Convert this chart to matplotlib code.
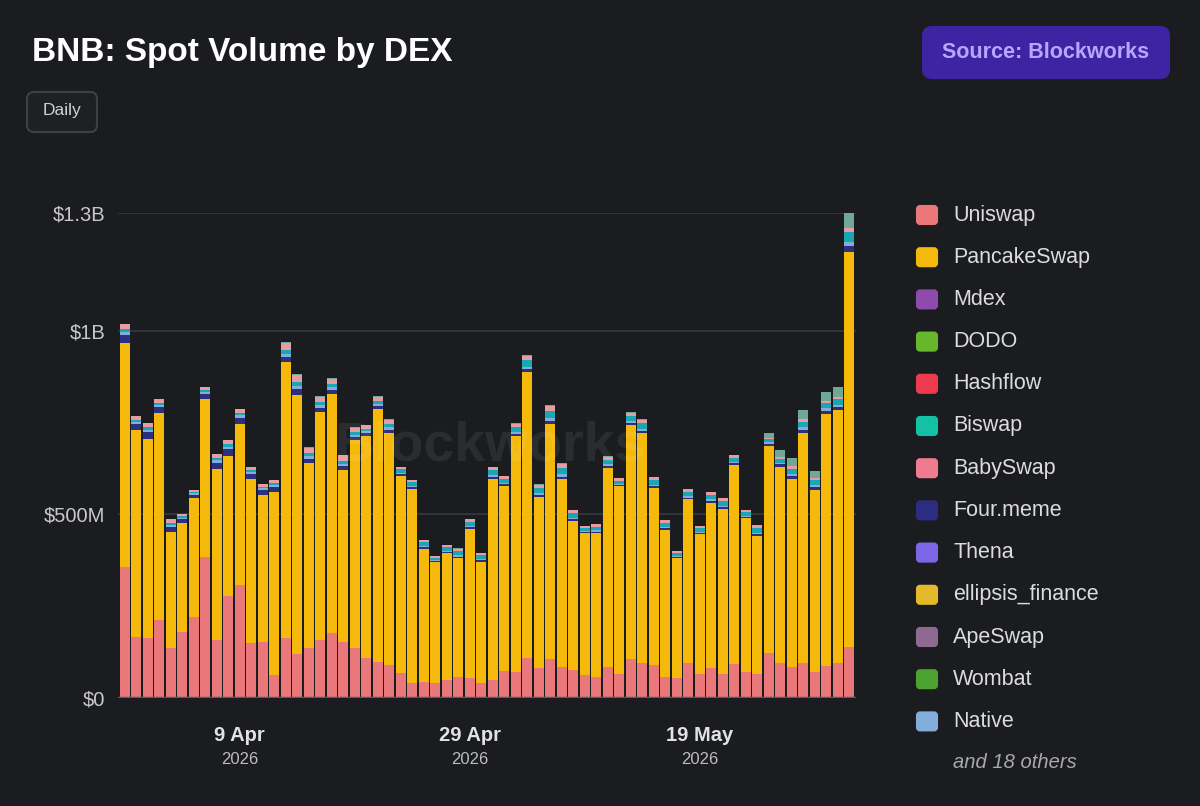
import numpy as np
import matplotlib
matplotlib.use("Agg")
import matplotlib.pyplot as plt
import matplotlib.transforms as mtrans
from matplotlib.patches import FancyBboxPatch

plt.rcParams['font.family'] = ['Liberation Sans', 'DejaVu Sans']

# daily spot volume on BNB chain, $M
dates = np.arange('2026-03-30', '2026-06-02', dtype='datetime64[D]')

uniswap = [357, 166, 164, 213, 136, 180, 221, 384, 158, 278, 308, 150, 153, 63, 164, 120,
           136, 158, 177, 153, 136, 109, 98, 90, 68, 41, 44, 41, 49, 57, 55, 41,
           49, 74, 71, 109, 82, 106, 84, 76, 63, 57, 84, 65, 106, 95, 90, 57,
           55, 95, 65, 82, 65, 93, 71, 65, 123, 95, 84, 95, 71, 87, 95, 139]
pancakeswap = [610, 564, 542, 564, 316, 297, 324, 431, 466, 382, 439, 447, 401, 499, 752, 706,
               504, 621, 651, 469, 567, 605, 689, 632, 537, 529, 362, 330, 346, 324, 406, 330,
               548, 504, 643, 779, 466, 640, 512, 406, 387, 392, 542, 512, 638, 627, 482, 401,
               327, 447, 382, 450, 450, 542, 420, 376, 564, 534, 512, 627, 496, 687, 689, 1076]
fourmeme = [22, 15, 18, 15, 14, 10, 8, 13, 17, 18, 17, 13, 12, 13, 14, 15,
            11, 11, 11, 10, 9, 7, 9, 9, 4, 4, 4, 2, 3, 4, 4, 4,
            5, 4, 5, 7, 5, 8, 7, 5, 3, 4, 5, 3, 5, 6, 5, 4,
            3, 4, 3, 5, 5, 4, 3, 5, 5, 7, 9, 9, 8, 9, 9, 16]
native = [8, 6, 7, 6, 5, 4, 4, 5, 6, 7, 6, 5, 5, 5, 8, 8,
          7, 7, 7, 6, 5, 5, 5, 6, 4, 4, 4, 2, 3, 4, 4, 4,
          5, 4, 5, 7, 5, 8, 7, 4, 3, 4, 5, 3, 5, 6, 4, 4,
          3, 4, 3, 4, 4, 4, 3, 4, 4, 5, 6, 6, 5, 6, 6, 11]
biswap = [8, 6, 6, 6, 5, 4, 3, 5, 6, 7, 6, 5, 4, 5, 11, 11,
          9, 9, 9, 8, 7, 6, 7, 8, 10, 10, 10, 6, 9, 11, 11, 10,
          13, 11, 14, 18, 14, 21, 17, 12, 8, 10, 13, 9, 14, 15, 12, 11,
          8, 11, 9, 12, 12, 11, 9, 12, 9, 11, 14, 16, 13, 15, 16, 26]
babyswap = [14, 11, 13, 11, 11, 7, 7, 10, 12, 12, 12, 10, 9, 10, 19, 20,
            15, 15, 15, 15, 12, 11, 12, 13, 6, 6, 6, 5, 6, 7, 7, 6,
            8, 7, 9, 12, 9, 13, 11, 8, 4, 6, 8, 6, 9, 9, 8, 7,
            4, 7, 6, 8, 8, 7, 6, 8, 4, 5, 6, 6, 5, 6, 6, 11]
others = [0, 0, 0, 0, 0, 0, 0, 0, 0, 0, 0, 0, 0, 0, 3, 3,
          2, 2, 2, 2, 2, 1, 2, 2, 1, 1, 1, 1, 1, 1, 1, 1,
          2, 1, 2, 2, 2, 2, 2, 1, 1, 1, 2, 1, 2, 2, 1, 1,
          1, 1, 1, 1, 1, 1, 1, 1, 13, 18, 22, 26, 21, 24, 26, 42]

series = [uniswap, pancakeswap, fourmeme, native, biswap, babyswap, others]
series_colors = ['#ea777a', '#f5b90c', '#2c2e80', '#82acd9', '#1ba6b6', '#e69ca0', '#6fa897']

legend_names = ['Uniswap', 'PancakeSwap', 'Mdex', 'DODO', 'Hashflow', 'Biswap', 'BabySwap',
                'Four.meme', 'Thena', 'ellipsis_finance', 'ApeSwap', 'Wombat', 'Native']
legend_colors = ['#ea777a', '#f5b90c', '#8e4aad', '#66b82a', '#ee3a4f', '#13c1a4', '#ef7b90',
                 '#2b2e80', '#7d66e6', '#e5ba2a', '#8e6a93', '#4ba22f', '#82acd9']

tick_dates = ['2026-04-09', '2026-04-29', '2026-05-19']
tick_text = ['9 Apr', '29 Apr', '19 May']

bg = '#1b1c20'
W, H = 1200, 806
fig = plt.figure(figsize=(W / 100, H / 100), dpi=100, facecolor=bg)
ax = fig.add_axes([118 / W, 1 - 698 / H, (856 - 118) / W, (698 - 213) / H])
ax.set_facecolor(bg)

x = np.arange(len(dates))
bottom = np.zeros(len(dates))
for vals, col in zip(series, series_colors):
    v = np.array(vals) * 1e6
    ax.bar(x, v, bottom=bottom, width=0.86, color=col, linewidth=0, zorder=3)
    bottom += v

ymax = bottom.max()
ax.set_ylim(0, ymax)
ax.set_xlim(-0.6, len(dates) - 0.4)
ax.set_yticks([0, 500e6, 1e9, ymax])
ax.set_yticklabels(['$0', '$500M', '$1B', '$1.3B'])
ax.tick_params(axis='y', length=0, pad=9, labelsize=14.5, labelcolor='#c9c9cc')
ax.grid(axis='y', color='#393a3f', lw=1.2, zorder=0)
ax.axhline(0, color='#5c5d62', lw=2.5, zorder=4)
for s in ax.spines.values():
    s.set_visible(False)

tick_idx = [int(np.where(dates == np.datetime64(d))[0][0]) for d in tick_dates]
ax.set_xticks(tick_idx)
ax.set_xticklabels([])
ax.tick_params(axis='x', length=0)
for i, t in zip(tick_idx, tick_text):
    ax.annotate(t, (i, 0), xycoords=('data', 'axes fraction'), xytext=(0, -27),
                textcoords='offset points', ha='center', va='center',
                fontsize=14.5, fontweight='bold', color='#e2e2e4')
    ax.annotate(str(dates[i].astype(object).year), (i, 0), xycoords=('data', 'axes fraction'),
                xytext=(0, -44.5), textcoords='offset points', ha='center', va='center',
                fontsize=12, color='#bdbdc0')

# watermark
fig.text(490 / W, 1 - 447 / H, 'Blockworks', fontsize=40, fontweight='bold',
         color='white', alpha=0.07, ha='center', va='center', zorder=10)

px = mtrans.IdentityTransform()


def box(x0, y0, x1, y1, fc, ec, r):
    p = FancyBboxPatch((x0, H - y1), x1 - x0, y1 - y0,
                       boxstyle='round,pad=0,rounding_size=%g' % r,
                       transform=px, facecolor=fc, edgecolor=ec, lw=1.5)
    fig.patches.append(p)


fig.text(32 / W, 1 - 52 / H, 'BNB: Spot Volume by DEX', fontsize=24, fontweight='bold',
         color='white', ha='left', va='center')

box(923, 27, 1169, 78, '#3e24a2', '#3e24a2', 9)
fig.text(1046 / W, 1 - 53 / H, 'Source: Blockworks', fontsize=15.5, fontweight='bold',
         color='#b7a6ff', ha='center', va='center')

box(27, 92, 97, 132, '#1f2024', '#3f4045', 7)
fig.text(62 / W, 1 - 111 / H, 'Daily', fontsize=12.5, color='#d0d0d3', ha='center', va='center')

# legend
for k, (name, col) in enumerate(zip(legend_names, legend_colors)):
    yc = 215 + 42.2 * k
    box(917, yc - 9, 937, yc + 9, col, col, 3)
    fig.text(953 / W, 1 - yc / H, name, fontsize=15.5, color='#dcdcdf', ha='left', va='center')
fig.text(953 / W, 1 - 763 / H, 'and 18 others', fontsize=14.5, style='italic',
         color='#a9a9ad', ha='left', va='center')

fig.savefig('out.png', dpi=100, facecolor=bg)
